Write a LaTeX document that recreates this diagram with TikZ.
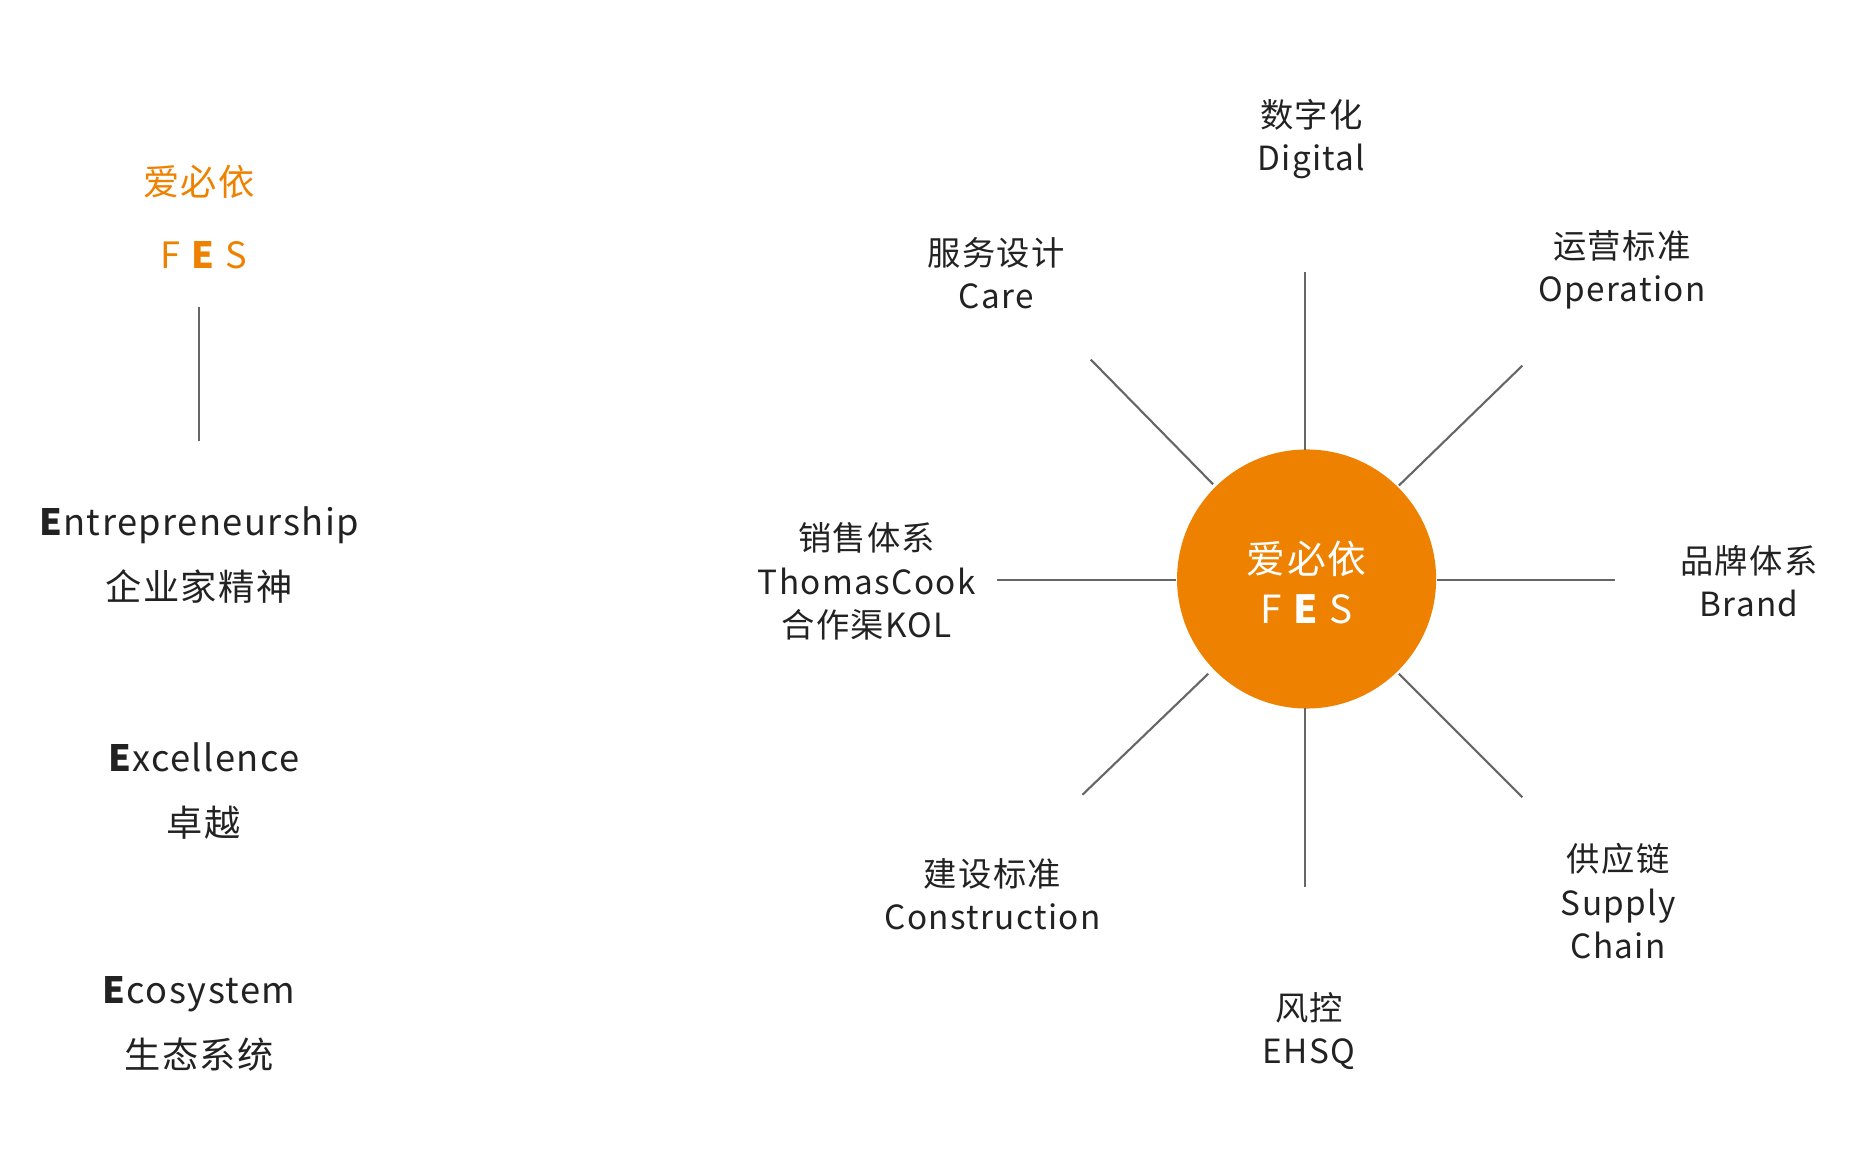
\documentclass[tikz,border=0pt]{standalone}
\usepackage{fontspec}
\setmainfont{Noto Sans CJK SC}[LetterSpace=4]
\definecolor{fesor}{HTML}{EE8200}
\definecolor{txt}{HTML}{222222}
\begin{document}
\begin{tikzpicture}[x=0.01cm,y=-0.01cm,
  lbl/.style={font=\fontsize{7.9}{10.3}\selectfont,text=txt,align=center,inner sep=0pt},
  big/.style={font=\fontsize{8.6}{15.5}\selectfont,text=txt,align=center,inner sep=0pt},
  ray/.style={draw=black!60,line width=0.5pt}]
\useasboundingbox (0,0) rectangle (1565,966.1);
% left column
\node[big,text=fesor] (t1) at (166,152) {爱必依};
\node[big,text=fesor] (t2) at (170,213) {F \textbf{E} S};
\coordinate (la) at (166,256); \coordinate (lb) at (166,368);
\draw[ray] (la) -- (lb);
\node[big] (e1) at (166,463) {\textbf{E}ntrepreneurship\\企业家精神};
\node[big] (e2) at (170,660) {\textbf{E}xcellence\\卓越};
\node[big] (e3) at (166,854) {\textbf{E}cosystem\\生态系统};
% centre
\node[circle,fill=fesor,inner sep=0pt,minimum size=2.16cm] (c) at (1090,483) {};
\node[font=\fontsize{9.2}{12}\selectfont,text=white,align=center] (ct) at (1090,486) {爱必依\\F \textbf{E} S};
% rays
\coordinate (a1) at (1089,227); \coordinate (a2) at (1089,375);
\coordinate (b1) at (1089,591); \coordinate (b2) at (1089,740);
\coordinate (c1) at (832,484); \coordinate (c2) at (981,484);
\coordinate (d1) at (1199,484); \coordinate (d2) at (1347,484);
\coordinate (e1a) at (910,300); \coordinate (e2a) at (1012,404);
\coordinate (f1) at (1270,305); \coordinate (f2) at (1167,405);
\coordinate (g1) at (903,663); \coordinate (g2) at (1008,562);
\coordinate (h1) at (1270,665); \coordinate (h2) at (1167,562);
\foreach \p/\q in {a1/a2,b1/b2,c1/c2,d1/d2,e1a/e2a,f1/f2,g1/g2,h1/h2} \draw[ray] (\p) -- (\q);
% labels
\node[lbl] (n1) at (1094,116) {数字化\\Digital};
\node[lbl] (n2) at (1353,225) {运营标准\\Operation};
\node[lbl] (n3) at (831,228) {服务设计\\Care};
\node[lbl] (n4) at (1459,485) {品牌体系\\Brand};
\node[lbl] (n5) at (723,485) {销售体系\\ThomasCook\\合作渠KOL};
\node[lbl] (n6) at (828,746) {建设标准\\Construction};
\node[lbl] (n7) at (1350,752) {供应链\\Supply\\Chain};
\node[lbl] (n8) at (1092,860) {风控\\EHSQ};
\end{tikzpicture}
\end{document}
